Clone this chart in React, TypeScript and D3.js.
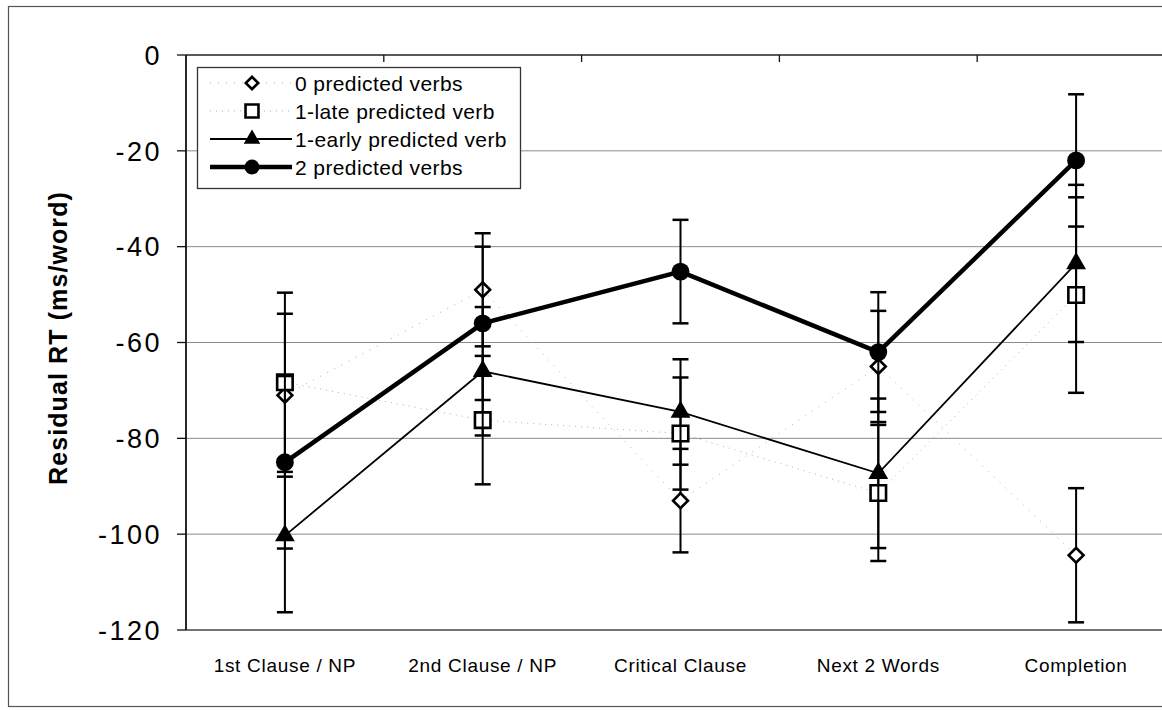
import React, { useRef, useEffect } from "react";
import * as d3 from "d3";

const ChartConfig = {
  width: 1162,
  height: 710,
  left: 186,
  right: 1175,
  top: 55,
  bottom: 630,
};

const categories = [
  "1st Clause / NP",
  "2nd Clause / NP",
  "Critical Clause",
  "Next 2 Words",
  "Completion",
];

const yTicks = [0, -20, -40, -60, -80, -100, -120];

const zeroVerbs = [-71, -49, -93, -65, -104.4];
const zeroVerbsErr = [17, 11.8, 10.8, 11.6, 14];

const lateVerb = [-68.3, -76.2, -79, -91.4, -50.1];
const lateVerbErr = [18.7, 13.4, 11.7, 14.2, 20.4];

const earlyVerb = [-100.3, -66, -74.5, -87.3, -43.5];
const earlyVerbErr = [16, 13.4, 11, 15.6, 16.4];

const twoVerbs = [-85, -56, -45.2, -62, -22];
const twoVerbsErr = [18, 16, 10.8, 12.5, 13.8];

const seriesNames = [
  "0 predicted verbs",
  "1-late predicted verb",
  "1-early predicted verb",
  "2 predicted verbs",
];

const FONT = "Arial, 'Liberation Sans', Helvetica, sans-serif";

const Chart = () => {
  const ref = useRef<SVGSVGElement>(null);

  useEffect(() => {
    const svg = d3.select(ref.current);
    svg.selectAll("*").remove();

    const x = d3
      .scaleBand()
      .domain(categories)
      .range([ChartConfig.left, ChartConfig.right]);
    const cx = (c: string) => (x(c) as number) + x.bandwidth() / 2;

    const y = d3
      .scaleLinear()
      .domain([-120, 0])
      .range([ChartConfig.bottom, ChartConfig.top]);

    // outer frame (right edge falls outside the picture)
    svg
      .append("rect")
      .attr("x", 8.5)
      .attr("y", 6.5)
      .attr("width", 1180)
      .attr("height", 700)
      .attr("fill", "none")
      .attr("stroke", "#555")
      .attr("stroke-width", 1.2);

    // gridlines
    svg
      .selectAll("line.grid")
      .data(yTicks.filter((t) => t > -120 && t < 0))
      .enter()
      .append("line")
      .attr("x1", ChartConfig.left)
      .attr("x2", ChartConfig.right)
      .attr("y1", (d) => y(d))
      .attr("y2", (d) => y(d))
      .attr("stroke", "#8a8a8a")
      .attr("stroke-width", 1);

    // plot borders
    svg
      .append("line")
      .attr("x1", ChartConfig.left)
      .attr("x2", ChartConfig.right)
      .attr("y1", ChartConfig.bottom)
      .attr("y2", ChartConfig.bottom)
      .attr("stroke", "#444")
      .attr("stroke-width", 1.5);
    svg
      .append("line")
      .attr("x1", ChartConfig.left)
      .attr("x2", ChartConfig.right)
      .attr("y1", ChartConfig.top)
      .attr("y2", ChartConfig.top)
      .attr("stroke", "#222")
      .attr("stroke-width", 1.5);
    svg
      .append("line")
      .attr("x1", ChartConfig.left)
      .attr("x2", ChartConfig.left)
      .attr("y1", ChartConfig.top)
      .attr("y2", ChartConfig.bottom)
      .attr("stroke", "#111")
      .attr("stroke-width", 1.8);

    // category ticks on the zero line
    svg
      .selectAll("line.xtick")
      .data(categories.slice(1))
      .enter()
      .append("line")
      .attr("x1", (d) => x(d) as number)
      .attr("x2", (d) => x(d) as number)
      .attr("y1", ChartConfig.top)
      .attr("y2", ChartConfig.top + 7)
      .attr("stroke", "#111")
      .attr("stroke-width", 1.3);

    // y ticks + labels
    yTicks.forEach((t) => {
      svg
        .append("line")
        .attr("x1", ChartConfig.left - 9)
        .attr("x2", ChartConfig.left)
        .attr("y1", y(t))
        .attr("y2", y(t))
        .attr("stroke", "#111")
        .attr("stroke-width", 1.3);
      svg
        .append("text")
        .attr("x", 162)
        .attr("y", y(t))
        .attr("dy", "0.36em")
        .attr("text-anchor", "end")
        .attr("font-family", FONT)
        .attr("font-size", 27)
        .attr("letter-spacing", 2.5)
        .text(t);
    });

    // y title
    svg
      .append("text")
      .attr("transform", `translate(67,${338}) rotate(-90)`)
      .attr("text-anchor", "middle")
      .attr("font-family", FONT)
      .attr("font-weight", "bold")
      .attr("font-size", 25)
      .attr("letter-spacing", 1.1)
      .text("Residual RT (ms/word)");

    // x labels
    svg
      .selectAll("text.xlab")
      .data(categories)
      .enter()
      .append("text")
      .attr("x", (d) => cx(d))
      .attr("y", 672)
      .attr("text-anchor", "middle")
      .attr("font-family", FONT)
      .attr("font-size", 19)
      .attr("letter-spacing", 0.7)
      .text((d) => d);

    const series = [
      { vals: zeroVerbs, err: zeroVerbsErr, sym: d3.symbolSquare, rot: 45, size: 110, fill: "#fff", line: "#b0b0b0", lw: 1, dash: "1,7" },
      { vals: lateVerb, err: lateVerbErr, sym: d3.symbolSquare, rot: 0, size: 240, fill: "#fff", line: "#b0b0b0", lw: 1, dash: "1,5" },
      { vals: earlyVerb, err: earlyVerbErr, sym: d3.symbolTriangle, rot: 0, size: 170, fill: "#000", line: "#000", lw: 1.8, dash: null },
      { vals: twoVerbs, err: twoVerbsErr, sym: d3.symbolCircle, rot: 0, size: 250, fill: "#000", line: "#000", lw: 4.5, dash: null },
    ];

    const lineGen = d3
      .line<number>()
      .x((_, i) => cx(categories[i]))
      .y((d) => y(d));

    series.forEach((s) => {
      svg
        .append("path")
        .attr("d", lineGen(s.vals) as string)
        .attr("fill", "none")
        .attr("stroke", s.line)
        .attr("stroke-width", s.lw)
        .attr("stroke-dasharray", s.dash);

      const g = svg.append("g");
      s.vals.forEach((v, i) => {
        const px = cx(categories[i]);
        const lo = y(v - s.err[i]);
        const hi = y(v + s.err[i]);
        g.append("line")
          .attr("x1", px)
          .attr("x2", px)
          .attr("y1", hi)
          .attr("y2", lo)
          .attr("stroke", "#000")
          .attr("stroke-width", 2);
        [hi, lo].forEach((yy) =>
          g
            .append("line")
            .attr("x1", px - 8)
            .attr("x2", px + 8)
            .attr("y1", yy)
            .attr("y2", yy)
            .attr("stroke", "#000")
            .attr("stroke-width", 2.5)
        );
      });

      svg
        .append("g")
        .selectAll("path")
        .data(s.vals)
        .enter()
        .append("path")
        .attr("d", d3.symbol().type(s.sym).size(s.size) as any)
        .attr(
          "transform",
          (d, i) => `translate(${cx(categories[i])},${y(d)}) rotate(${s.rot})`
        )
        .attr("fill", s.fill)
        .attr("stroke", "#000")
        .attr("stroke-width", s.fill === "#fff" ? 2.6 : 0);
    });

    // legend
    const lg = svg.append("g");
    lg.append("rect")
      .attr("x", 197.5)
      .attr("y", 67.5)
      .attr("width", 323)
      .attr("height", 121)
      .attr("fill", "#fff")
      .attr("stroke", "#333")
      .attr("stroke-width", 1.3);
    series.forEach((s, i) => {
      const ly = 83 + i * 28;
      lg.append("line")
        .attr("x1", 210)
        .attr("x2", 292)
        .attr("y1", ly)
        .attr("y2", ly)
        .attr("stroke", s.line)
        .attr("stroke-width", s.lw)
        .attr("stroke-dasharray", s.dash);
      lg.append("path")
        .attr("d", d3.symbol().type(s.sym).size(s.size * 0.7) as any)
        .attr("transform", `translate(252,${ly}) rotate(${s.rot})`)
        .attr("fill", s.fill)
        .attr("stroke", "#000")
        .attr("stroke-width", s.fill === "#fff" ? 2.6 : 0);
      lg.append("text")
        .attr("x", 295)
        .attr("y", ly)
        .attr("dy", "0.36em")
        .attr("font-family", FONT)
        .attr("font-size", 21)
        .attr("letter-spacing", 0.4)
        .text(seriesNames[i]);
    });
  }, []);

  return (
    <svg
      ref={ref}
      width={ChartConfig.width}
      height={ChartConfig.height}
      style={{ position: "absolute", left: 0, top: 0, background: "#fff" }}
    ></svg>
  );
};

export default function App() {
  return <Chart />;
}
